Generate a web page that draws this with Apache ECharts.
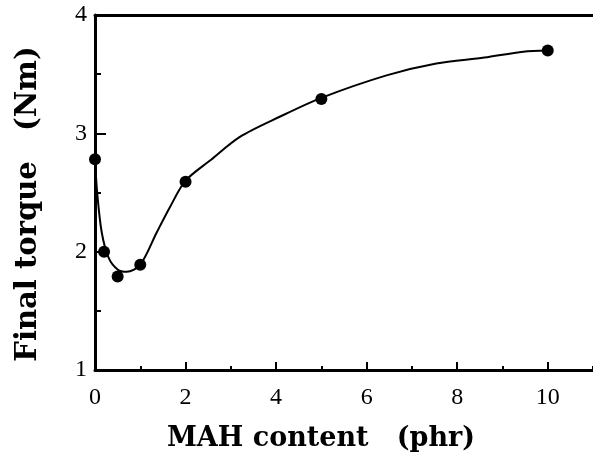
<!DOCTYPE html>
<html>
<head>
<meta charset="utf-8">
<script src="https://cdn.jsdelivr.net/npm/echarts@6/dist/echarts.min.js"></script>
<style>
html,body{margin:0;padding:0;background:#fff;}
#chart{width:593px;height:461px;}
</style>
</head>
<body>
<div id="chart"></div>
<script>
// measured points
var pointX = [0, 0.2, 0.5, 1, 2, 5, 10];
var pointY = [2.78, 2.0, 1.79, 1.89, 2.59, 3.29, 3.70];
// hand-drawn fitted curve
var curveX = [0, 0.05, 0.15, 0.3, 0.5, 0.7, 1.0, 1.36, 1.66, 2.0, 2.54, 3.2, 4.08, 5, 6.44, 7.54, 8.6, 9.46, 10];
var curveY = [2.78, 2.49, 2.16, 1.95, 1.85, 1.83, 1.89, 2.16, 2.38, 2.6, 2.77, 2.97, 3.14, 3.3, 3.49, 3.59, 3.64, 3.69, 3.70];
var xTitle = 'MAH content   (phr)';
var yTitle = 'Final torque   (Nm)';

var tickFont = {fontFamily: 'Liberation Serif', fontSize: 24, color: '#000'};
var titleFont = 'DejaVu Serif';

var chart = echarts.init(document.getElementById('chart'), null, {renderer: 'canvas'});
chart.setOption({
  animation: false,
  backgroundColor: '#fff',
  grid: {left: 95, right: 0, top: 15, bottom: 91},
  xAxis: [
    {
      type: 'value', min: 0, max: 11, interval: 2, position: 'bottom',
      axisLine: {show: true, onZero: false, lineStyle: {color: '#000', width: 3}},
      axisTick: {show: true, inside: true, length: 8, lineStyle: {color: '#000', width: 2}},
      axisLabel: Object.assign({margin: 16, showMaxLabel: false}, tickFont),
      splitLine: {show: false}
    },
    {
      type: 'value', min: 0, max: 11, interval: 1, position: 'bottom',
      axisLine: {show: false},
      axisTick: {show: true, inside: true, length: 4, lineStyle: {color: '#000', width: 2}},
      axisLabel: {show: false},
      splitLine: {show: false}
    },
    {
      type: 'value', min: 0, max: 11, position: 'top',
      axisLine: {show: true, onZero: false, lineStyle: {color: '#000', width: 3}},
      axisTick: {show: false}, axisLabel: {show: false}, splitLine: {show: false}
    }
  ],
  yAxis: [
    {
      type: 'value', min: 1, max: 4, interval: 1, position: 'left',
      axisLine: {show: true, onZero: false, lineStyle: {color: '#000', width: 3}},
      axisTick: {show: true, inside: true, length: 11, lineStyle: {color: '#000', width: 2}},
      minorTick: {show: true, splitNumber: 2, length: 6, lineStyle: {color: '#000', width: 2}},
      axisLabel: Object.assign({margin: 8}, tickFont),
      splitLine: {show: false}
    }
  ],
  graphic: [
    {type: 'text', x: 321, y: 439,
     style: {text: xTitle, font: 'bold 27px "' + titleFont + '"', fill: '#000', textAlign: 'center', textVerticalAlign: 'middle'}},
    {type: 'text', x: 28, y: 204, rotation: Math.PI / 2,
     style: {text: yTitle, font: 'bold 29px "' + titleFont + '"', fill: '#000', textAlign: 'center', textVerticalAlign: 'middle'}}
  ],
  series: [
    {
      type: 'line', xAxisIndex: 0, yAxisIndex: 0,
      data: curveX.map(function (x, i) { return [x, curveY[i]]; }),
      smooth: 0.3, showSymbol: false, symbol: 'none',
      lineStyle: {color: '#000', width: 2}
    },
    {
      type: 'scatter', xAxisIndex: 0, yAxisIndex: 0,
      data: pointX.map(function (x, i) { return [x, pointY[i]]; }),
      symbol: 'circle', symbolSize: 12,
      itemStyle: {color: '#000', opacity: 1}
    }
  ]
});
</script>
</body>
</html>
